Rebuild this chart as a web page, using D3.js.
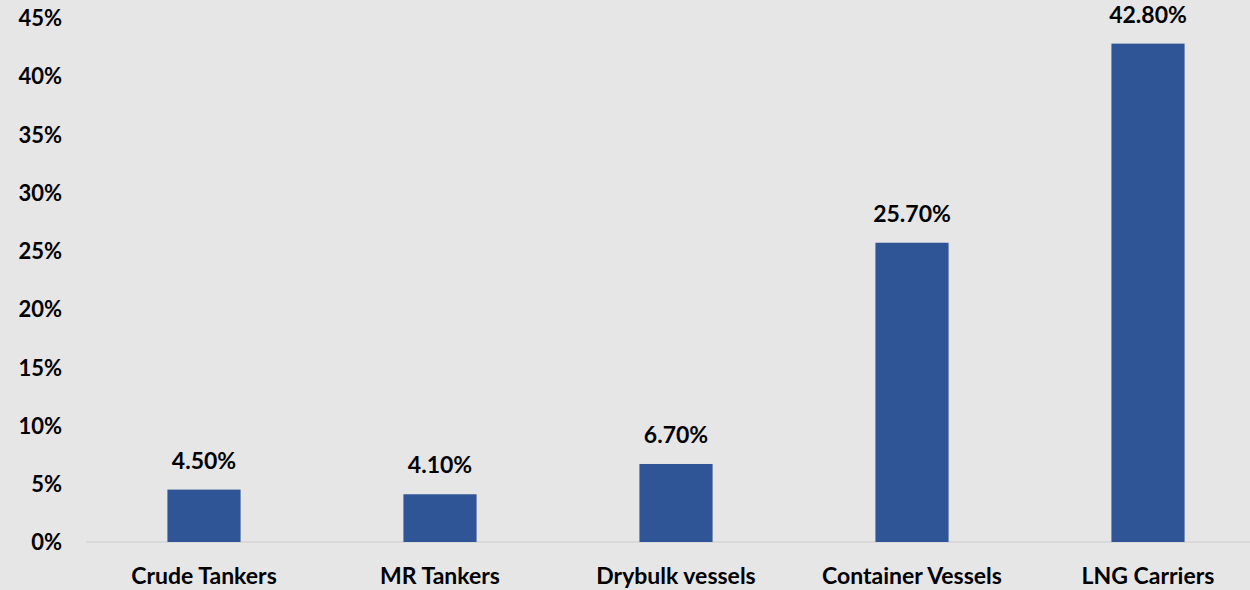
<!DOCTYPE html>
<html>
<head>
<meta charset="utf-8">
<script src="https://cdn.jsdelivr.net/npm/d3@7"></script>
<style>
  body { margin: 0; background: #e7e6e6; }
  svg { display: block; }
  text { font-family: Lato, "Open Sans", sans-serif; font-weight: bold; fill: #000; }
</style>
</head>
<body>
<div id="chart"></div>
<script>
const categories = ['Crude Tankers', 'MR Tankers', 'Drybulk vessels', 'Container Vessels', 'LNG Carriers']
const values = [4.5, 4.1, 6.7, 25.7, 42.8]
const yticks = [0, 5, 10, 15, 20, 25, 30, 35, 40, 45]

const W = 1250, H = 590
const margin = {top: 18, bottom: 48, left: 86, right: -16}

const svg = d3.select('#chart').append('svg')
  .attr('width', W)
  .attr('height', H)

svg.append('rect').attr('width', W).attr('height', H).attr('fill', '#e7e6e6')

const x = d3.scaleBand()
  .domain(categories)
  .range([margin.left, W - margin.right])
  .paddingInner(0.69)
  .paddingOuter(0.345)

const y = d3.scaleLinear()
  .domain([0, 45])
  .range([H - margin.bottom, margin.top])

// y axis labels
const yax = svg.append('g')
  .attr('transform', 'translate(' + 62 + ',0)')
  .call(d3.axisLeft(y).tickValues(yticks).tickFormat(d => d + '%').tickSize(0).tickPadding(0))
yax.select('.domain').remove()
yax.selectAll('text').attr('font-size', 22).attr('dy', '0.35em')
  .style('font-family', 'Lato, "Open Sans", sans-serif').style('font-weight', 'bold')

// baseline
svg.append('line')
  .attr('x1', margin.left).attr('x2', W)
  .attr('y1', y(0)).attr('y2', y(0))
  .attr('stroke', '#d9d9d9').attr('stroke-width', 2)

// bars
svg.selectAll('rect.bar')
  .data(values)
  .join('rect')
  .attr('class', 'bar')
  .attr('x', (d, i) => x(categories[i]))
  .attr('width', x.bandwidth())
  .attr('y', d => y(d))
  .attr('height', d => y(0) - y(d))
  .attr('fill', '#2f5597')

// value labels
svg.selectAll('text.val')
  .data(values)
  .join('text')
  .attr('class', 'val')
  .attr('x', (d, i) => x(categories[i]) + x.bandwidth() / 2)
  .attr('y', d => y(d) - 21)
  .attr('text-anchor', 'middle')
  .attr('font-size', 23)
  .text(d => d.toFixed(2) + '%')

// x axis labels
const xax = svg.append('g')
  .attr('transform', 'translate(0,' + y(0) + ')')
  .call(d3.axisBottom(x).tickSize(0).tickPadding(0))
xax.select('.domain').remove()
xax.selectAll('text').attr('font-size', 23).attr('y', 42).attr('dy', 0)
  .style('font-family', 'Lato, "Open Sans", sans-serif').style('font-weight', 'bold')
</script>
</body>
</html>
